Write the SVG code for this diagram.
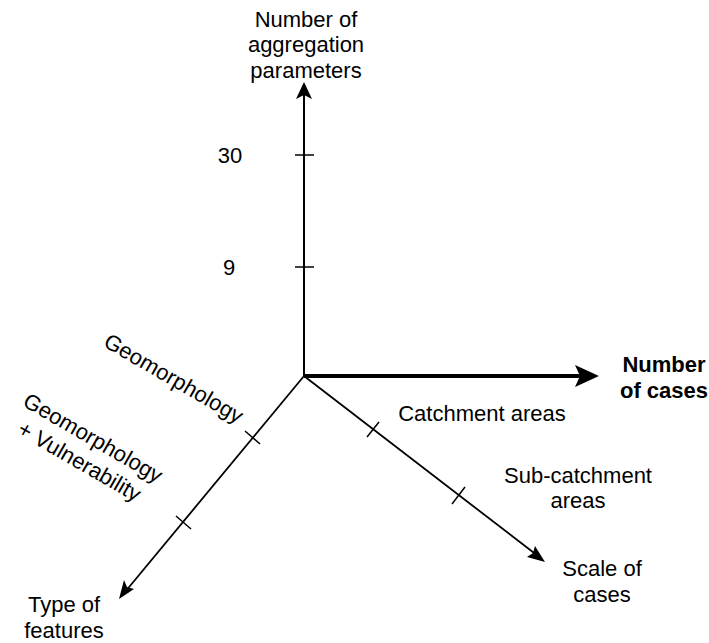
<svg xmlns="http://www.w3.org/2000/svg" width="709" height="643" viewBox="0 0 709 643">
  <style>
    .lbl { font-family: "Liberation Sans", Arial, sans-serif; font-size: 22px; fill: #000; text-anchor: middle; }
    .bold { font-weight: bold; }
    .axis { stroke: #000; fill: none; stroke-linecap: butt; }
    .tick { stroke: #000; stroke-width: 1.5; fill: none; }
    .head { fill: #000; }
  </style>
  <rect width="709" height="643" fill="#fff"/>

  <g id="connectors">
    <!-- vertical axis: aggregation parameters -->
    <line class="axis" x1="304" y1="376" x2="304" y2="92" stroke-width="2"/>
    <path class="head" d="M304,82 L296,99 L304,95 L312,99 Z"/>
    <!-- horizontal axis: number of cases -->
    <line class="axis" x1="304" y1="376" x2="585" y2="376" stroke-width="4"/>
    <path class="head" d="M599,376 L575,365 L580,376 L575,387 Z"/>
    <!-- diagonal axis: scale of cases -->
    <line class="axis" x1="304" y1="376" x2="538" y2="556" stroke-width="1.8"/>
    <path class="head" d="M545,562 L527,557 L533,553 L535,546 Z"/>
    <!-- diagonal axis: type of features -->
    <line class="axis" x1="304" y1="376" x2="125" y2="592" stroke-width="1.8"/>
    <path class="head" d="M119,599 L124,580 L127,587 L134,589 Z"/>

    <!-- ticks -->
    <line class="tick" x1="295" y1="155" x2="314" y2="155"/>
    <line class="tick" x1="295" y1="267" x2="314" y2="267"/>
    <line class="tick" x1="367" y1="437" x2="379" y2="422"/>
    <line class="tick" x1="452" y1="504" x2="465" y2="487"/>
    <line class="tick" x1="245" y1="431" x2="260" y2="444"/>
    <line class="tick" x1="176" y1="516" x2="191" y2="529"/>
  </g>

  <g id="label-params">
    <text class="lbl" x="306" y="27">Number of</text>
    <text class="lbl" x="306" y="52">aggregation</text>
    <text class="lbl" x="306" y="78">parameters</text>
  </g>
  <g id="label-30"><text class="lbl" x="230" y="163">30</text></g>
  <g id="label-9"><text class="lbl" x="229" y="275">9</text></g>

  <g id="label-cases">
    <text class="lbl bold" x="664" y="372">Number</text>
    <text class="lbl bold" x="664" y="398">of cases</text>
  </g>
  <g id="label-catchment"><text class="lbl" x="482" y="421">Catchment areas</text></g>
  <g id="label-subcatchment">
    <text class="lbl" x="578" y="483">Sub-catchment</text>
    <text class="lbl" x="578" y="508">areas</text>
  </g>
  <g id="label-scale">
    <text class="lbl" x="602" y="576">Scale of</text>
    <text class="lbl" x="602" y="602">cases</text>
  </g>
  <g id="label-type">
    <text class="lbl" x="64" y="612">Type of</text>
    <text class="lbl" x="64" y="638">features</text>
  </g>

  <g id="label-geomorphology" transform="rotate(30 174 378)">
    <text class="lbl" x="174" y="386">Geomorphology</text>
  </g>
  <g id="label-geo-vuln" transform="rotate(30 85 450)">
    <text class="lbl" x="86" y="443">Geomorphology</text>
    <text class="lbl" x="86" y="470">+ Vulnerability</text>
  </g>
</svg>
